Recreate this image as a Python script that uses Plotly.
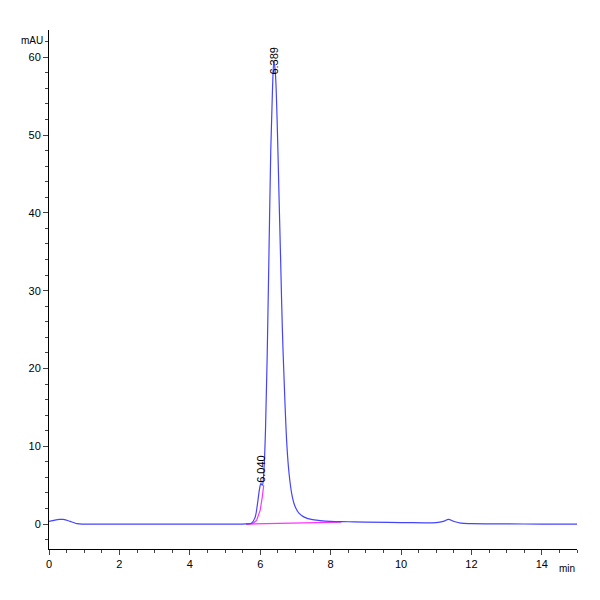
import plotly.graph_objects as go

t = [0, 0.1, 0.2, 0.3, 0.4, 0.5, 0.6, 0.7, 0.8, 1.0, 2.0, 3.0, 4.0, 5.0, 5.6, 5.75, 5.85, 5.92, 5.98, 6.02, 6.06, 6.1, 6.15,
     6.2, 6.25, 6.3, 6.35, 6.389, 6.43, 6.48, 6.53, 6.58, 6.63, 6.7, 6.76, 6.82, 6.9, 6.98, 7.1, 7.25, 7.45, 7.7, 8.0,
     8.5, 9.0, 10.0, 11.0, 11.2, 11.35, 11.5, 11.7, 12.0, 13.0, 14.0, 15.0]
v = [0.35, 0.45, 0.55, 0.6, 0.6, 0.5, 0.35, 0.2, 0.05, 0, 0, 0, 0, 0, 0.02, 0.1, 0.8, 2.5, 4.5, 5.2, 5.0, 6.5, 12,
     22, 35, 48, 56, 59.5, 58, 52, 43, 34, 25, 16, 10, 6.5, 3.8, 2.4, 1.4, 0.9, 0.6, 0.45, 0.35,
     0.3, 0.25, 0.2, 0.2, 0.35, 0.6, 0.35, 0.12, 0.05, 0.03, 0, 0]
mt = [5.6, 5.8, 5.9, 6.0, 6.06, 6.1]
mv = [0, 0.1, 0.5, 1.8, 3.5, 5.0]
bt = [5.6, 8.3]
bv = [0, 0.25]
peaks = ["6.389", "6.040"]
peak_t = [6.389, 6.04]
peak_v = [57.5, 5.0]

fig = go.Figure()
fig.add_trace(go.Scatter(x=bt, y=bv, mode="lines", line=dict(color="#ff33ff", width=1.2)))
fig.add_trace(go.Scatter(x=mt, y=mv, mode="lines", line=dict(color="#ff33ff", width=1.2)))
fig.add_trace(go.Scatter(x=t, y=v, mode="lines", line=dict(color="#4444ff", width=1.2, shape="spline")))
for lab, x, y in zip(peaks, peak_t, peak_v):
    fig.add_annotation(x=x, y=y, text=lab, textangle=-90, showarrow=False, xanchor="center",
                       yanchor="bottom", font=dict(size=11, color="black"))
fig.add_annotation(x=0, y=1, xref="paper", yref="paper", text="mAU", showarrow=False,
                   xanchor="right", yanchor="middle", xshift=-4, yshift=-10, font=dict(size=10))
fig.add_annotation(x=1, y=0, xref="paper", yref="paper", text="min", showarrow=False,
                   xanchor="right", yanchor="top", yshift=-12, font=dict(size=10))
fig.update_layout(width=600, height=600, showlegend=False, plot_bgcolor="white", paper_bgcolor="white",
                  margin=dict(l=41, r=31, t=22, b=59), font=dict(family="Liberation Sans", size=11, color="black"))
fig.update_xaxes(range=[0, 15], ticks="outside", ticklen=5, showgrid=False, zeroline=False,
                 showline=True, linecolor="black", tickvals=[0, 2, 4, 6, 8, 10, 12, 14],
                 minor=dict(dtick=0.5, ticks="outside", ticklen=3))
fig.update_yaxes(range=[-3.2, 63.5], tickvals=[0, 10, 20, 30, 40, 50, 60], ticks="outside", ticklen=5,
                 showgrid=False, zeroline=False, showline=True, linecolor="black",
                 minor=dict(dtick=2, ticks="outside", ticklen=3))
fig.write_html("out.html")
